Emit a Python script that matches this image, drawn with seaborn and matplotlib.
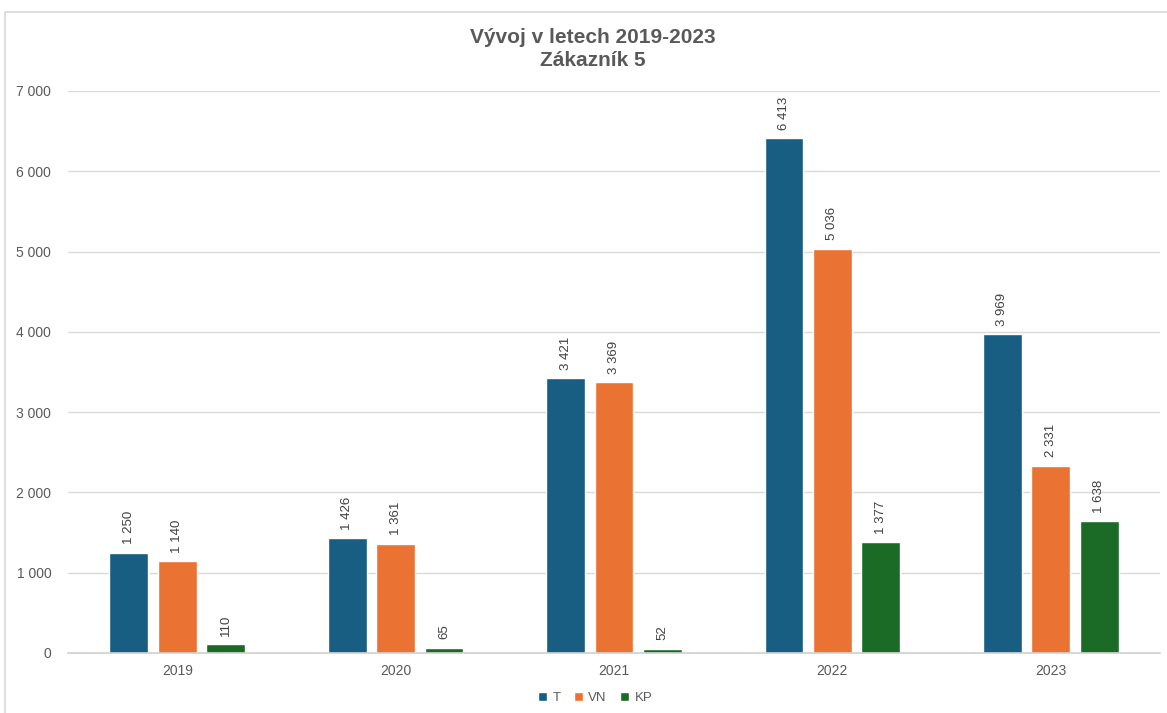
import matplotlib
matplotlib.use("Agg")
import matplotlib.pyplot as plt
import seaborn as sns
import pandas as pd
from matplotlib.patches import Rectangle, Patch
from matplotlib.ticker import FuncFormatter

years = ["2019", "2020", "2021", "2022", "2023"]
series = ["T", "VN", "KP"]
t_vals = [1250, 1426, 3421, 6413, 3969]
vn_vals = [1140, 1361, 3369, 5036, 2331]
kp_vals = [110, 65, 52, 1377, 1638]
colors = ["#175E82", "#EA7233", "#1B6B27"]

rows = []
for s, vals in zip(series, [t_vals, vn_vals, kp_vals]):
    for y, v in zip(years, vals):
        rows.append({"year": y, "series": s, "value": v})
df = pd.DataFrame(rows)

sns.set_theme(style="white")
plt.rcParams["font.family"] = ["Liberation Sans", "DejaVu Sans"]

fig = plt.figure(figsize=(11.67, 7.13), dpi=100)
ax = fig.add_axes([0.0583, 0.0842, 0.9357, 0.7882])

sns.barplot(data=df, x="year", y="value", hue="series", order=years,
            hue_order=series, palette=colors, width=0.665, gap=0.2,
            saturation=1, ax=ax, legend=False, errorbar=None)

def fmt(v):
    return f"{int(v):,}".replace(",", " ")

for cont in ax.containers:
    for bar in cont:
        h = bar.get_height()
        ax.annotate(fmt(h), (bar.get_x() + bar.get_width() / 2, h),
                    xytext=(0, 6), textcoords="offset points",
                    rotation=90, ha="center", va="bottom",
                    fontsize=9.5, color="#404040")

ax.set_ylim(0, 7000)
ax.set_yticks(range(0, 7001, 1000))
ax.yaxis.set_major_formatter(FuncFormatter(lambda v, p: fmt(v)))
ax.set_xlim(-0.5, 4.5)
ax.yaxis.grid(True, color="#D9D9D9", linewidth=1)
ax.set_axisbelow(True)
for sp in ["top", "right", "left"]:
    ax.spines[sp].set_visible(False)
ax.spines["bottom"].set_color("#D0D0D0")
ax.spines["bottom"].set_linewidth(1.2)
ax.tick_params(axis="both", length=0, labelsize=10, colors="#595959", pad=8)
ax.tick_params(axis="y", pad=12)
ax.set_xlabel("")
ax.set_ylabel("")

fig.text(0.508, 0.948, "Vývoj v letech 2019-2023", ha="center", va="center",
         fontsize=15, fontweight="bold", color="#595959")
fig.text(0.508, 0.915, "Zákazník 5", ha="center", va="center",
         fontsize=15, fontweight="bold", color="#595959")

handles = [Patch(facecolor=c, label=s) for c, s in zip(colors, series)]
fig.legend(handles=handles, loc="center", bbox_to_anchor=(0.510, 0.021),
           ncol=3, frameon=False, fontsize=9.5, handlelength=0.7,
           handleheight=0.7, handletextpad=0.4, columnspacing=1.0,
           labelcolor="#595959")

fig.patches.append(Rectangle((0.0045, -0.01), 1.0, 0.993, transform=fig.transFigure,
                             fill=False, edgecolor="#D9D9D9", linewidth=1.2))

fig.savefig("out.png", dpi=100)
